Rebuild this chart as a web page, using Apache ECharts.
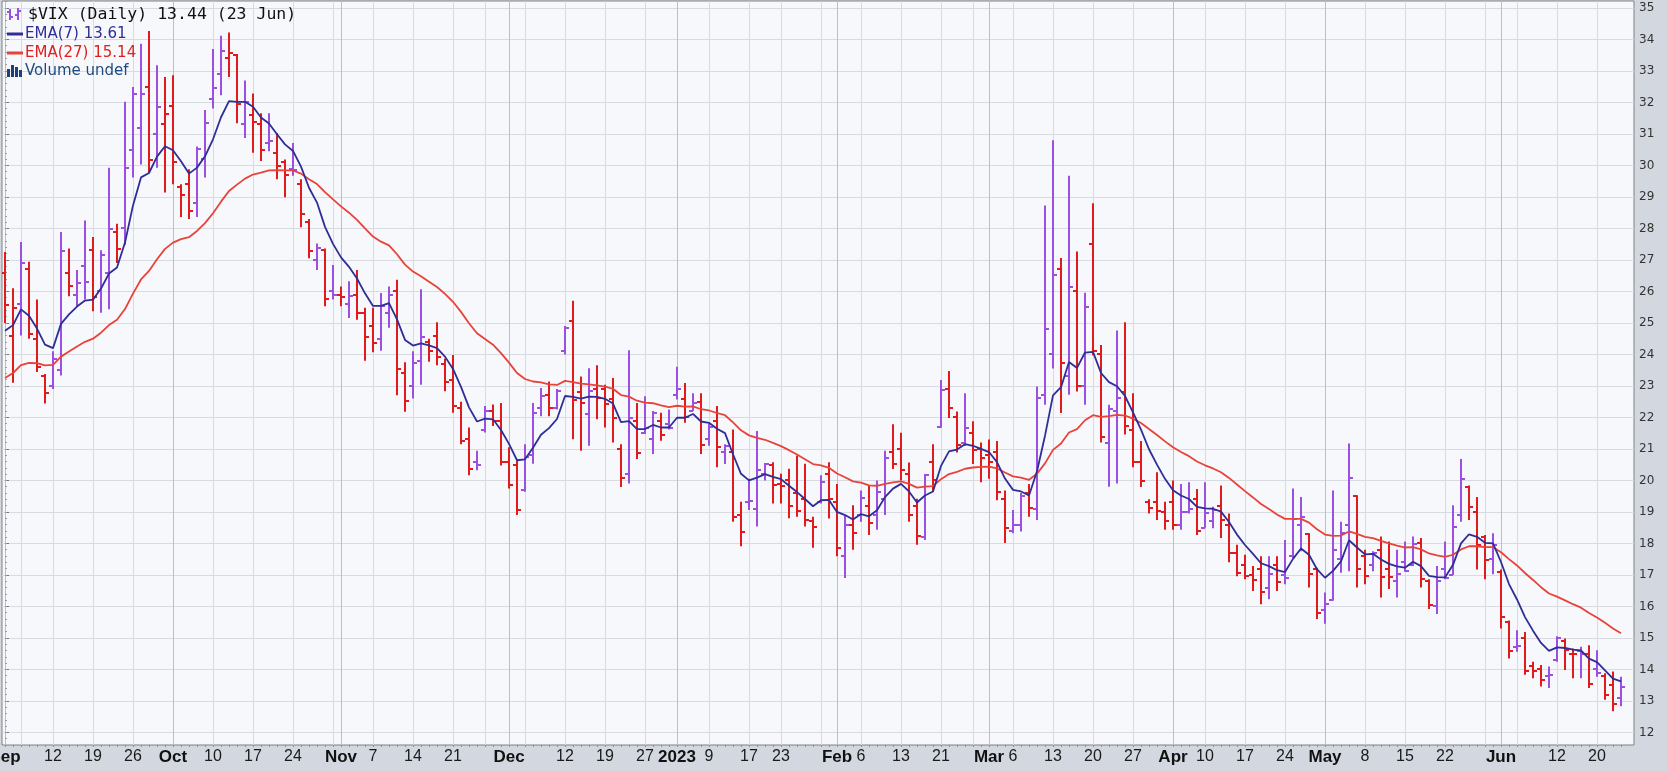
<!DOCTYPE html>
<html><head><meta charset="utf-8">
<script src="https://cdn.jsdelivr.net/npm/echarts@6.0.0/dist/echarts.min.js"></script>
<style>html,body{margin:0;padding:0;background:#d3d8e0}#c{width:1667px;height:771px}</style>
</head><body><div id="c"></div>
<script>
// ---- tick / label data (trading-day index) ----
const weekTicks = [0,2,6,11,16,21,26,31,36,41,42,46,51,56,60,63,65,70,75,80,84,88,93,97,102,104,107,112,117,121,123,126,131,136,141,146,150,155,160,165,170,175,180,185,187,189,194,199];
const monthTicks = [0,21,42,63,84,104,123,146,165,187];
const labelIdx = [0,6,11,16,21,26,31,36,42,46,51,56,63,70,75,80,84,88,93,97,104,107,112,117,123,126,131,136,141,146,150,155,160,165,170,175,180,187,194,199];
const labelText = ['Sep','12','19','26','Oct','10','17','24','Nov','7','14','21','Dec','12','19','27','2023','9','17','23','Feb','6','13','21','Mar','6','13','20','27','Apr','10','17','24','May','8','15','22','Jun','12','20'];
const yLabels = [12,13,14,15,16,17,18,19,20,21,22,23,24,25,26,27,28,29,30,31,32,33,34,35];

// ---- $VIX daily OHLC, 1 Sep 2022 .. 23 Jun 2023 ----
const open = [26.6,24.6,25.6,26.7,24.5,23.3,23.0,23.5,26.6,25.9,26.8,27.3,26.0,26.6,27.9,28.0,30.5,31.2,32.5,31.0,
31.3,31.9,29.3,29.4,28.8,30.2,32.1,32.9,33.4,33.5,31.3,31.6,31.3,30.7,30.4,30.1,29.9,29.4,28.2,27.0,
27.3,26.0,25.9,25.6,25.9,25.3,24.9,24.5,25.3,26.0,23.4,23.0,23.8,24.4,24.6,23.7,23.2,22.3,21.3,20.6,
21.6,22.2,21.9,20.6,20.5,19.7,20.8,22.3,22.7,22.3,24.1,25.07,22.8,22.1,22.9,22.9,22.6,21.0,20.2,21.9,
21.5,21.3,21.9,21.8,22.7,22.6,22.2,22.5,21.3,21.9,20.9,20.9,18.9,19.3,19.1,20.2,20.5,19.9,20.0,19.6,
19.4,18.7,19.3,20.2,19.3,17.6,18.6,18.9,19.2,18.9,19.4,20.9,21.0,20.2,19.2,18.2,20.6,21.7,22.9,22.0,
21.2,21.5,21.0,20.8,20.9,19.4,18.4,18.6,19.6,19.1,22.7,24.0,26.7,23.3,26.0,23.0,27.5,24.0,21.2,22.2,
22.8,21.6,20.6,19.3,19.3,19.0,19.3,18.6,19.0,19.4,18.5,18.7,19.2,18.6,17.7,17.3,17.0,17.2,16.6,17.3,
17.0,17.6,18.6,18.3,17.2,15.9,16.2,17.5,18.6,19.5,17.6,17.3,17.8,17.2,16.8,17.4,17.3,18.0,16.8,16.0,
17.2,17.0,18.9,19.8,19.0,18.2,17.5,17.1,15.5,14.7,15.0,14.1,14.0,13.8,14.3,14.9,14.5,14.6,14.5,14.0,
13.8,13.5,13.1];
const high = [27.25,26.1,27.57,26.94,25.74,23.38,24.1,27.89,27.36,26.68,28.25,27.73,27.31,29.93,28.15,32.02,32.49,33.86,34.27,33.18,
32.81,32.86,29.4,29.88,30.6,31.76,33.7,34.12,34.22,33.54,32.7,32.28,31.66,31.66,31.03,30.19,30.71,29.56,28.3,27.52,
27.36,26.84,26.16,26.32,26.68,25.48,25.48,25.95,26.16,26.37,23.75,24.1,26.07,24.5,25.02,23.87,23.98,22.5,21.68,20.94,
22.36,22.41,22.46,21.05,20.63,21.15,22.46,22.93,23.14,22.9,24.9,25.7,23.3,23.56,23.66,23.04,23.25,21.15,24.13,22.46,
22.67,22.2,22.15,22.25,23.61,23.09,22.77,22.77,21.8,22.36,21.15,21.62,19.32,20.05,21.57,20.55,20.58,20.21,20.37,20.79,
20.53,18.85,20.16,20.58,19.89,18.87,19.21,19.68,19.84,20.0,20.94,21.78,21.51,20.57,19.42,20.2,21.15,23.19,23.47,22.19,
22.77,21.88,21.2,21.3,21.25,19.68,19.06,19.6,19.89,22.98,28.73,30.8,27.06,29.67,27.27,25.96,28.8,24.3,22.4,24.76,
25.02,22.77,21.25,19.4,20.26,19.32,20.0,19.89,19.94,19.73,19.94,19.16,19.84,18.95,17.96,17.64,17.28,17.59,17.59,17.59,
18.11,19.74,19.47,18.32,17.23,16.44,19.68,18.69,21.17,19.53,17.8,17.75,18.22,18.06,17.8,18.06,18.22,18.17,16.86,17.28,
18.06,19.21,20.68,19.84,19.47,18.27,18.32,17.17,15.55,15.24,15.19,14.24,14.14,14.09,15.05,14.98,14.66,14.72,14.77,14.61,
13.88,13.93,13.77];
const low = [25.0,23.1,24.6,24.5,23.44,22.44,22.9,23.33,25.85,25.53,25.74,25.37,25.32,25.43,26.9,27.47,29.62,30.03,29.77,29.93,
29.14,29.4,28.36,28.3,28.36,29.62,31.81,32.23,32.81,31.34,30.87,30.4,30.14,30.45,29.56,28.99,29.67,28.04,27.05,26.68,
25.53,25.74,25.53,25.16,25.1,23.8,24.07,24.12,24.85,22.7,22.18,22.6,23.04,23.77,23.66,22.83,22.15,21.15,20.16,20.32,
21.52,21.73,20.47,19.74,18.9,19.64,20.53,22.04,22.04,22.25,24.0,21.31,20.94,21.1,21.94,21.68,21.2,19.79,19.9,20.68,
21.47,20.84,21.26,21.62,22.57,21.83,22.2,20.84,21.1,20.42,20.52,18.69,17.91,19.06,18.54,20.0,19.27,19.27,18.8,18.85,
18.54,17.86,19.27,18.79,17.59,16.9,17.8,18.69,18.27,18.43,18.9,20.36,20.0,18.69,17.96,18.11,19.63,21.67,21.98,20.89,
21.09,20.52,19.94,20.05,19.37,18.01,18.32,18.38,18.85,18.74,22.4,23.55,22.14,22.72,22.82,22.4,23.97,21.2,19.8,19.9,
21.46,20.42,19.79,18.95,18.74,18.43,18.43,18.43,18.95,18.27,18.5,18.48,18.17,17.4,16.96,16.86,16.49,16.07,16.23,16.49,
16.7,17.54,17.75,16.6,15.6,15.45,16.18,17.07,17.12,16.6,16.7,17.12,16.28,16.55,16.28,17.1,17.28,16.6,15.92,15.76,
16.86,17.0,18.69,18.74,17.17,16.86,17.02,15.3,14.35,14.56,13.83,13.72,13.46,13.41,14.24,13.98,13.72,13.72,13.41,13.77,
13.04,12.67,12.83];
const close = [25.56,25.47,26.91,24.64,23.61,22.79,23.87,27.27,26.16,26.27,26.30,25.81,27.16,27.99,27.35,29.92,32.26,32.27,30.18,31.84,
31.62,30.10,29.07,28.55,30.52,31.36,32.45,33.63,33.57,31.94,32.02,31.37,30.50,30.76,29.98,29.69,29.85,28.46,27.28,27.39,
25.75,25.88,25.81,25.86,25.3,24.55,24.35,25.54,25.9,23.53,22.52,23.73,24.54,24.11,23.93,23.12,22.36,21.24,20.35,20.50,
22.21,21.89,20.58,19.84,19.06,20.75,22.15,22.68,22.29,22.83,24.85,22.55,22.45,22.83,22.62,22.42,21.97,20.07,21.97,20.87,
21.65,22.14,21.44,21.67,22.90,22.01,22.46,21.13,21.7,21.07,21.09,18.83,18.35,19.36,20.34,20.52,19.85,19.81,19.20,19.03,
18.73,18.51,19.94,19.40,17.87,18.6,18.33,19.43,18.66,19.63,20.71,20.53,20.34,18.91,18.23,20.17,20.02,22.87,22.29,21.14,
21.67,20.95,20.70,20.58,19.63,18.49,18.60,19.5,19.11,22.61,24.80,26.52,23.73,26.14,22.99,25.51,24.12,21.38,22.26,22.61,
21.74,20.60,19.97,19.12,19.02,18.70,18.6,19.0,19.08,18.40,18.97,19.05,18.75,17.7,17.07,16.95,16.83,16.46,17.02,16.77,
16.89,18.76,18.84,17.03,15.78,16.08,17.78,18.34,20.09,17.19,16.98,17.71,16.94,16.93,17.03,17.12,17.99,16.87,16.05,16.81,
16.90,18.53,20.03,19.14,17.95,17.46,17.94,15.65,14.60,14.73,13.96,13.94,13.65,13.83,15.01,14.61,14.48,14.50,13.54,13.88,
13.20,12.91,13.44];
const ema7 = [24.75,24.93,25.43,25.23,24.82,24.31,24.20,24.97,25.27,25.52,25.71,25.74,26.09,26.57,26.76,27.55,28.73,29.62,29.76,30.28,
30.61,30.48,30.13,29.74,29.93,30.29,30.83,31.53,32.04,32.02,32.02,31.86,31.52,31.33,30.99,30.67,30.46,29.96,29.29,28.82,
28.05,27.51,27.08,26.78,26.41,25.94,25.54,25.54,25.63,25.11,24.46,24.28,24.35,24.29,24.20,23.93,23.54,22.97,22.32,21.87,
21.96,21.94,21.60,21.16,20.64,20.67,21.04,21.45,21.66,21.95,22.68,22.65,22.60,22.66,22.65,22.59,22.44,21.85,21.88,21.63,
21.63,21.76,21.68,21.68,21.99,21.99,22.11,21.87,21.83,21.64,21.50,20.83,20.21,20.00,20.09,20.20,20.11,20.04,19.83,19.63,
19.41,19.18,19.37,19.38,19.00,18.90,18.76,18.93,18.86,19.05,19.47,19.74,19.89,19.65,19.30,19.52,19.65,20.46,20.92,20.98,
21.15,21.10,21.00,20.90,20.58,20.06,19.70,19.65,19.52,20.29,21.42,22.70,22.96,23.76,23.57,24.06,24.08,23.41,23.12,22.99,
22.68,22.16,21.61,20.99,20.50,20.05,19.69,19.52,19.41,19.16,19.11,19.10,19.01,18.68,18.28,17.95,17.67,17.37,17.28,17.15,
17.09,17.51,17.84,17.64,17.18,16.91,17.13,17.43,18.10,17.87,17.65,17.67,17.49,17.35,17.27,17.23,17.42,17.28,16.97,16.93,
16.92,17.32,18.00,18.29,18.21,18.02,18.00,17.41,16.71,16.22,15.66,15.23,14.84,14.59,14.70,14.68,14.63,14.60,14.34,14.23,
13.97,13.71,13.62];
const ema27 = [23.25,23.41,23.66,23.73,23.72,23.65,23.67,23.93,24.09,24.25,24.40,24.50,24.69,24.93,25.10,25.44,25.93,26.38,26.65,27.02,
27.35,27.55,27.66,27.72,27.92,28.17,28.48,28.85,29.19,29.39,29.58,29.71,29.77,29.84,29.85,29.84,29.84,29.74,29.56,29.41,
29.15,28.92,28.70,28.50,28.27,28.00,27.74,27.58,27.46,27.18,26.85,26.63,26.48,26.31,26.14,25.92,25.67,25.35,24.99,24.67,
24.49,24.31,24.04,23.74,23.41,23.22,23.14,23.11,23.05,23.03,23.16,23.12,23.07,23.05,23.02,22.98,22.91,22.71,22.66,22.53,
22.47,22.45,22.38,22.33,22.37,22.34,22.35,22.26,22.22,22.14,22.07,21.84,21.59,21.43,21.35,21.29,21.19,21.09,20.96,20.82,
20.67,20.52,20.48,20.40,20.22,20.10,19.97,19.93,19.84,19.83,19.89,19.94,19.97,19.89,19.77,19.80,19.82,20.04,20.20,20.27,
20.37,20.41,20.43,20.44,20.38,20.25,20.13,20.09,20.02,20.21,20.54,20.97,21.17,21.52,21.63,21.91,22.07,22.02,22.04,22.08,
22.06,21.96,21.82,21.63,21.44,21.24,21.05,20.90,20.77,20.60,20.48,20.38,20.26,20.08,19.87,19.66,19.46,19.25,19.09,18.92,
18.78,18.78,18.78,18.66,18.45,18.28,18.24,18.25,18.38,18.30,18.21,18.17,18.08,18.00,17.93,17.87,17.88,17.81,17.68,17.62,
17.57,17.64,17.81,17.91,17.91,17.88,17.88,17.72,17.50,17.30,17.06,16.84,16.61,16.41,16.31,16.19,16.07,15.96,15.79,15.65,
15.48,15.30,15.15];

// ---- styling ----
const UP = '#9b4fe3', DOWN = '#e11b1b', EMA7C = '#2e2e96', EMA27C = '#e7433a';
const monthSet = new Set(monthTicks);

const ohlc = close.map((c, i) => [i, open[i], high[i], low[i], c, (i > 0 && c > close[i - 1]) ? 1 : 0]);

function renderBar(params, api) {
  const i = api.value(0);
  const pO = api.coord([i, api.value(1)]);
  const pH = api.coord([i, api.value(2)]);
  const pL = api.coord([i, api.value(3)]);
  const pC = api.coord([i, api.value(4)]);
  const col = api.value(5) ? UP : DOWN;
  const x = Math.round(pH[0]);
  const st = { stroke: col, lineWidth: 2 };
  return {
    type: 'group',
    children: [
      { type: 'line', shape: { x1: x, y1: pH[1], x2: x, y2: pL[1] }, style: st },
      { type: 'line', shape: { x1: x - 4, y1: Math.round(pO[1]), x2: x, y2: Math.round(pO[1]) }, style: st },
      { type: 'line', shape: { x1: x, y1: Math.round(pC[1]), x2: x + 4, y2: Math.round(pC[1]) }, style: st }
    ]
  };
}

const XMIN = -0.375, XMAX = 203.625, YMIN = 11.6, YMAX = 35.22;
const dayTicks = close.map((c, i) => i);

const chart = echarts.init(document.getElementById('c'), null, { renderer: 'canvas' });
chart.setOption({
  animation: false,
  backgroundColor: '#d3d8e0',
  grid: { left: 2, right: 33, top: 1, bottom: 26, containLabel: false, outerBoundsMode: 'none', show: true, backgroundColor: '#f7f8fb', borderColor: '#808080', borderWidth: 1 },
  xAxis: [
    {
      type: 'value', position: 'bottom', min: XMIN, max: XMAX,
      axisLine: { show: false },
      axisTick: { show: false, customValues: weekTicks },
      splitLine: { show: true, lineStyle: { color: '#d9dbe3', width: 1 } },
      axisLabel: {
        customValues: labelIdx, margin: 4, color: '#1a1a1a', fontSize: 16, fontFamily: 'Liberation Sans, Arial, sans-serif',
        formatter: v => { const k = labelIdx.indexOf(Math.round(v)); const t = k >= 0 ? labelText[k] : ''; return monthSet.has(Math.round(v)) ? '{m|' + t + '}' : t; },
        rich: { m: { fontWeight: 'bold', fontSize: 17, fontFamily: 'Liberation Sans, Arial, sans-serif', color: '#111' } }
      }
    },
    {
      type: 'value', position: 'bottom', min: XMIN, max: XMAX,
      axisLine: { show: false }, axisLabel: { show: false },
      axisTick: { show: false, customValues: monthTicks },
      splitLine: { show: true, lineStyle: { color: '#bcbec8', width: 1 } }
    },
    {
      type: 'value', position: 'bottom', min: XMIN, max: XMAX,
      axisLine: { show: false }, axisLabel: { show: false }, splitLine: { show: false },
      axisTick: { show: true, customValues: dayTicks, length: 2, lineStyle: { color: '#8d8f98' } }
    }
  ],
  yAxis: [
    {
      type: 'value', position: 'right', min: YMIN, max: YMAX,
      axisLine: { show: false },
      axisTick: { show: true, customValues: yLabels, length: 4, lineStyle: { color: '#777' } },
      splitLine: { show: true, lineStyle: { color: '#d9dbe3', width: 1 } },
      axisLabel: { customValues: yLabels, margin: 5, color: '#333', fontSize: 12, fontFamily: 'DejaVu Sans, sans-serif', formatter: v => String(Math.round(v)) }
    },
    {
      type: 'value', position: 'right', min: YMIN, max: YMAX, interval: 0.2,
      axisLine: { show: false }, axisLabel: { show: false }, splitLine: { show: false },
      axisTick: { show: true, length: 2, lineStyle: { color: '#9a9ca5' } }
    }
  ],
  series: [
    { type: 'custom', name: '$VIX', xAxisIndex: 0, yAxisIndex: 0, renderItem: renderBar, data: ohlc, encode: { x: 0, y: [1, 2, 3, 4] }, z: 2, clip: true },
    { type: 'line', name: 'EMA(27)', xAxisIndex: 0, yAxisIndex: 0, data: ema27.map((v, i) => [i, v]), showSymbol: false, symbol: 'none', lineStyle: { color: EMA27C, width: 1.8 }, z: 3 },
    { type: 'line', name: 'EMA(7)', xAxisIndex: 0, yAxisIndex: 0, data: ema7.map((v, i) => [i, v]), showSymbol: false, symbol: 'none', lineStyle: { color: EMA7C, width: 1.8 }, z: 4 }
  ],
  graphic: [
    // line 1 icon (small OHLC glyph)
    { type: 'line', z: 100, shape: { x1: 10, y1: 9, x2: 10, y2: 20 }, style: { stroke: UP, lineWidth: 2 } },
    { type: 'line', z: 100, shape: { x1: 7, y1: 12, x2: 10, y2: 12 }, style: { stroke: UP, lineWidth: 2 } },
    { type: 'line', z: 100, shape: { x1: 10, y1: 17, x2: 13, y2: 17 }, style: { stroke: UP, lineWidth: 2 } },
    { type: 'line', z: 100, shape: { x1: 18, y1: 8, x2: 18, y2: 20 }, style: { stroke: UP, lineWidth: 2 } },
    { type: 'line', z: 100, shape: { x1: 15, y1: 15, x2: 18, y2: 15 }, style: { stroke: UP, lineWidth: 2 } },
    { type: 'line', z: 100, shape: { x1: 18, y1: 11, x2: 21, y2: 11 }, style: { stroke: UP, lineWidth: 2 } },
    { type: 'text', z: 100, x: 28, y: 15, style: { text: '$VIX (Daily) 13.44 (23 Jun)', fontSize: 16.5, fontFamily: 'DejaVu Sans Mono, monospace', fill: '#111', verticalAlign: 'middle' } },
    // EMA(7)
    { type: 'line', z: 100, shape: { x1: 7, y1: 34, x2: 23, y2: 34 }, style: { stroke: EMA7C, lineWidth: 3 } },
    { type: 'text', z: 100, x: 25, y: 34, style: { text: 'EMA(7) 13.61', fontSize: 15, fontFamily: 'DejaVu Sans, sans-serif', fill: EMA7C, verticalAlign: 'middle' } },
    // EMA(27)
    { type: 'line', z: 100, shape: { x1: 7, y1: 53, x2: 23, y2: 53 }, style: { stroke: EMA27C, lineWidth: 3 } },
    { type: 'text', z: 100, x: 25, y: 53, style: { text: 'EMA(27) 15.14', fontSize: 15, fontFamily: 'DejaVu Sans, sans-serif', fill: '#e0201c', verticalAlign: 'middle' } },
    // Volume icon
    { type: 'rect', z: 100, shape: { x: 7, y: 69, width: 3, height: 8 }, style: { fill: '#1f3f78' } },
    { type: 'rect', z: 100, shape: { x: 11, y: 65, width: 3, height: 12 }, style: { fill: '#1f3f78' } },
    { type: 'rect', z: 100, shape: { x: 15, y: 67, width: 3, height: 10 }, style: { fill: '#1f3f78' } },
    { type: 'rect', z: 100, shape: { x: 19, y: 70, width: 3, height: 7 }, style: { fill: '#1f3f78' } },
    { type: 'text', z: 100, x: 25, y: 71, style: { text: 'Volume undef', fontSize: 15, fontFamily: 'DejaVu Sans, sans-serif', fill: '#1f4a80', verticalAlign: 'middle' } }
  ]
});
</script>
</body></html>
